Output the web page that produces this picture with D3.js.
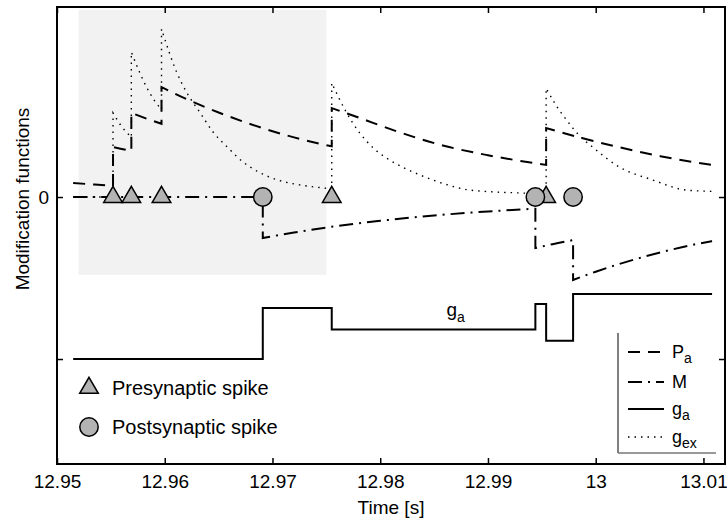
<!DOCTYPE html>
<html>
<head>
<meta charset="utf-8">
<script src="https://cdn.jsdelivr.net/npm/d3@7"></script>
<style>
  html, body { margin: 0; padding: 0; background: #fff; }
  svg { display: block; font-family: "Liberation Sans", Arial, Helvetica, sans-serif; }
</style>
</head>
<body>
<svg id="chart" width="727" height="521"></svg>
<script>
// Spike times (s)
const preSpikes  = [12.9552, 12.9569, 12.9597, 12.9755, 12.9954];
const postSpikes = [12.9691, 12.9944, 12.9979];

// Shaded interval
const shadeStart = 12.952, shadeEnd = 12.975, shadeHigh = 1.155, shadeLow = -0.48;

// P_a: pieces between presynaptic spikes, [time, value]
const paSegments = [
  [[12.9515, 0.086], [12.9535, 0.077], [12.9552, 0.068]],
  [[12.9552, 0.309], [12.9560, 0.297], [12.9569, 0.284]],
  [[12.9569, 0.519], [12.9583, 0.484], [12.9597, 0.452]],
  [[12.9597, 0.679], [12.9620, 0.605], [12.9650, 0.522], [12.9690, 0.427], [12.9720, 0.368], [12.9755, 0.313]],
  [[12.9755, 0.549], [12.9780, 0.490], [12.9820, 0.395], [12.9860, 0.315], [12.9900, 0.258], [12.9954, 0.198]],
  [[12.9954, 0.426], [12.9980, 0.377], [13.0020, 0.310], [13.0060, 0.252], [13.0108, 0.198]]
];

// M: pieces between postsynaptic spikes
const mSegments = [
  [[12.9515, 0], [12.9691, 0]],
  [[12.9691, -0.253], [12.9720, -0.219], [12.9760, -0.179], [12.9800, -0.147], [12.9850, -0.114], [12.9900, -0.089], [12.9944, -0.072]],
  [[12.9944, -0.315], [12.9960, -0.291], [12.9979, -0.266]],
  [[12.9979, -0.512], [13.0000, -0.461], [13.0030, -0.397], [13.0060, -0.342], [13.0090, -0.295], [13.0108, -0.272]]
];

// g_ex: pieces between presynaptic spikes
const gexSegments = [
  [[12.9515, 0.0], [12.9552, 0.0]],
  [[12.9552, 0.519], [12.9560, 0.435], [12.9569, 0.370]],
  [[12.9569, 0.895], [12.9576, 0.780], [12.9583, 0.680], [12.9590, 0.600], [12.9597, 0.540]],
  [[12.9597, 1.037], [12.9611, 0.772], [12.9620, 0.650], [12.9633, 0.519], [12.9645, 0.400], [12.9658, 0.309],
   [12.9672, 0.220], [12.9689, 0.148], [12.9705, 0.105], [12.9726, 0.074], [12.9747, 0.056], [12.9755, 0.050]],
  [[12.9755, 0.704], [12.9768, 0.530], [12.9781, 0.395], [12.9794, 0.300], [12.9806, 0.240], [12.9822, 0.180],
   [12.9837, 0.136], [12.9860, 0.080], [12.9883, 0.043], [12.9930, 0.025], [12.9954, 0.020]],
  [[12.9954, 0.671], [12.9963, 0.568], [12.9973, 0.475], [12.9985, 0.378], [12.9997, 0.309], [13.0022, 0.185],
   [13.0053, 0.105], [13.0084, 0.043], [13.0108, 0.035]]
];

// g_a: step function, value holds from each time until the next
const gaTimes  = [12.9515, 12.9691, 12.9755, 12.9944, 12.9954, 12.9979, 13.0108];
const gaValues = [-1, -0.685, -0.817, -0.660, -0.887, -0.599, -0.599];

// Axis ticks
const xTicks = [12.95, 12.96, 12.97, 12.98, 12.99, 13.00, 13.01];
const xTickLabels = ["12.95", "12.96", "12.97", "12.98", "12.99", "13", "13.01"];
const yTicks = [-1, 0];
const yTickLabels = ["", "0"];

const svg = d3.select("#chart");
const margin = { left: 57, right: 725, top: 7, bottom: 464 };

const x = d3.scaleLinear().domain([12.95, 13.012]).range([margin.left, margin.right]);
const y = d3.scaleLinear().domain([-1.648, 1.173]).range([margin.bottom, margin.top]);

const plot = svg.append("g");

// shaded interval
plot.append("rect")
  .attr("x", x(shadeStart)).attr("y", y(shadeHigh))
  .attr("width", x(shadeEnd) - x(shadeStart))
  .attr("height", y(shadeLow) - y(shadeHigh))
  .attr("fill", "#f2f2f2");

// joins the smooth pieces into a single path with vertical jumps
const pieceLine = d3.line().x(d => x(d[0])).y(d => y(d[1])).curve(d3.curveMonotoneX);
function tracePath(segments) {
  return segments.map((s, i) => {
    const p = pieceLine(s);
    return i === 0 ? p : "L" + p.slice(1);
  }).join("");
}

const styles = {
  pa:  { dash: "12,8", width: 2 },
  m:   { dash: "14,6,2,6", width: 2 },
  ga:  { dash: null, width: 2 },
  gex: { dash: "1.5,5", width: 1.4 }
};

plot.append("path").attr("d", tracePath(gexSegments))
  .attr("fill", "none").attr("stroke", "#000")
  .attr("stroke-width", styles.gex.width).attr("stroke-dasharray", styles.gex.dash);

plot.append("path").attr("d", tracePath(paSegments))
  .attr("fill", "none").attr("stroke", "#000")
  .attr("stroke-width", styles.pa.width).attr("stroke-dasharray", styles.pa.dash);

plot.append("path").attr("d", tracePath(mSegments))
  .attr("fill", "none").attr("stroke", "#000")
  .attr("stroke-width", styles.m.width).attr("stroke-dasharray", styles.m.dash);

const gaLine = d3.line().x(d => x(d[0])).y(d => y(d[1])).curve(d3.curveStepAfter);
plot.append("path").attr("d", gaLine(gaTimes.map((t, i) => [t, gaValues[i]])))
  .attr("fill", "none").attr("stroke", "#000").attr("stroke-width", styles.ga.width);

// g_a annotation
const gaLabel = plot.append("text")
  .attr("x", x(12.98615)).attr("y", y(-0.735))
  .attr("font-size", 19).attr("fill", "#000");
gaLabel.append("tspan").text("g");
gaLabel.append("tspan").attr("dy", 6).attr("font-size", 14).text("a");

// spike markers
const markerFill = "#b3b3b3";
const tri = d3.symbol().type(d3.symbolTriangle).size(150);
plot.selectAll(".pre").data(preSpikes).join("path")
  .attr("class", "pre")
  .attr("d", tri)
  .attr("transform", d => `translate(${x(d)},${y(0)})`)
  .attr("fill", markerFill).attr("stroke", "#000").attr("stroke-width", 1.5);

plot.selectAll(".post").data(postSpikes).join("circle")
  .attr("class", "post")
  .attr("cx", d => x(d)).attr("cy", y(0)).attr("r", 9.2)
  .attr("fill", markerFill).attr("stroke", "#000").attr("stroke-width", 1.5);

// axes (ticks pointing inward)
function styleAxis(g) {
  g.select(".domain").remove();
  g.selectAll(".tick line").attr("stroke", "#000").attr("stroke-width", 1.5);
  g.selectAll(".tick text").attr("fill", "#000").attr("font-size", 19)
    .attr("font-family", "'Liberation Sans', Arial, sans-serif");
}
svg.append("g").attr("transform", `translate(0,${margin.bottom})`)
  .call(d3.axisBottom(x).tickValues(xTicks).tickSizeInner(-6).tickSizeOuter(0).tickPadding(11)
    .tickFormat((d, i) => xTickLabels[i]))
  .call(styleAxis);
svg.append("g").attr("transform", `translate(0,${margin.top})`)
  .call(d3.axisTop(x).tickValues(xTicks).tickSizeInner(-6).tickSizeOuter(0).tickFormat(""))
  .call(styleAxis);
svg.append("g").attr("transform", `translate(${margin.left},0)`)
  .call(d3.axisLeft(y).tickValues(yTicks).tickSizeInner(-6).tickSizeOuter(0).tickPadding(8)
    .tickFormat((d, i) => yTickLabels[i]))
  .call(styleAxis);
svg.append("g").attr("transform", `translate(${margin.right},0)`)
  .call(d3.axisRight(y).tickValues(yTicks).tickSizeInner(-6).tickSizeOuter(0).tickFormat(""))
  .call(styleAxis);

// frame
svg.append("rect")
  .attr("x", margin.left).attr("y", margin.top)
  .attr("width", margin.right - margin.left).attr("height", margin.bottom - margin.top)
  .attr("fill", "none").attr("stroke", "#000").attr("stroke-width", 2);

// axis titles
svg.append("text")
  .attr("x", (margin.left + margin.right) / 2).attr("y", 514)
  .attr("text-anchor", "middle").attr("font-size", 19).text("Time [s]");
svg.append("text")
  .attr("transform", "translate(29,199) rotate(-90)")
  .attr("text-anchor", "middle").attr("font-size", 19).text("Modification functions");

// spike legend
const spikeLegend = svg.append("g");
spikeLegend.append("path").attr("d", tri)
  .attr("transform", "translate(89,388)")
  .attr("fill", markerFill).attr("stroke", "#000").attr("stroke-width", 1.5);
spikeLegend.append("text").attr("x", 112).attr("y", 395).attr("font-size", 20).text("Presynaptic spike");
spikeLegend.append("circle").attr("cx", 89).attr("cy", 427).attr("r", 9.2)
  .attr("fill", markerFill).attr("stroke", "#000").attr("stroke-width", 1.5);
spikeLegend.append("text").attr("x", 112).attr("y", 434).attr("font-size", 20).text("Postsynaptic spike");

// trace legend
const legend = svg.append("g");
legend.append("line").attr("x1", 618).attr("x2", 618).attr("y1", 333).attr("y2", 453)
  .attr("stroke", "#000").attr("stroke-width", 1);
legend.append("line").attr("x1", 618).attr("x2", 716).attr("y1", 453).attr("y2", 453)
  .attr("stroke", "#777").attr("stroke-width", 1.5);

const legendItems = [
  { key: "pa",  main: "P", sub: "a",  y: 352 },
  { key: "m",   main: "M", sub: "",   y: 382 },
  { key: "ga",  main: "g", sub: "a",  y: 409 },
  { key: "gex", main: "g", sub: "ex", y: 437 }
];
legendItems.forEach(item => {
  const st = styles[item.key];
  legend.append("line").attr("x1", 628).attr("x2", 664).attr("y1", item.y).attr("y2", item.y)
    .attr("stroke", "#000").attr("stroke-width", st.width)
    .attr("stroke-dasharray", st.dash);
  const t = legend.append("text").attr("x", 672).attr("y", item.y + 6).attr("font-size", 18);
  t.append("tspan").text(item.main);
  if (item.sub) t.append("tspan").attr("dy", 5).attr("font-size", 14).text(item.sub);
});
</script>
</body>
</html>
